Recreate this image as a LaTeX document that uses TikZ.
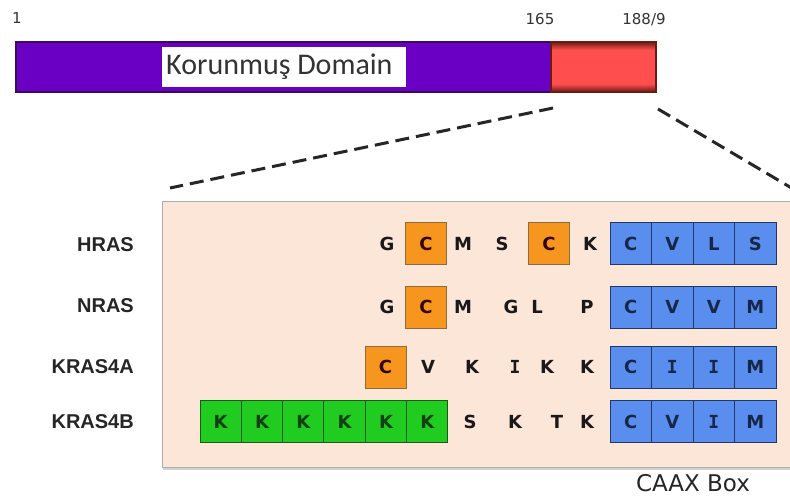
\documentclass[tikz,border=0pt]{standalone}
\usepackage{fontspec}
\setmainfont{Liberation Sans}
\newfontfamily\calib{Carlito}
\newfontfamily\dvs{DejaVu Sans}
\newfontfamily\dvsmono{DejaVu Sans Mono}
\usetikzlibrary{shadows,calc}

\definecolor{dompurple}{HTML}{6A00C4}
\definecolor{domedge}{HTML}{3A0A5E}
\definecolor{tailred}{HTML}{FF4E4E}
\definecolor{tailedge}{HTML}{6B1A14}
\definecolor{peach}{HTML}{FCE6D8}
\definecolor{boxorange}{HTML}{F7961E}
\definecolor{orangeedge}{HTML}{8E6A3E}
\definecolor{boxblue}{HTML}{5A8EEE}
\definecolor{blueedge}{HTML}{1F3868}
\definecolor{boxgreen}{HTML}{1FCC1F}
\definecolor{greenedge}{HTML}{185A18}

% red C-terminal segment: dark rim at top and bottom
\pgfdeclareverticalshading{tailshade}{100bp}{color(0bp)=(tailedge); color(25bp)=(tailedge); color(33bp)=(tailred); color(67bp)=(tailred); color(75bp)=(tailedge); color(100bp)=(tailedge)}

% isoleucine drawn with a serifed capital I
\newcommand{\Ile}{{\dvsmono\bfseries I}}

\begin{document}
\begin{tikzpicture}[x=1pt,y=-1pt,
  num/.style={font=\dvs\fontsize{15}{15}\selectfont, text=black!80, inner sep=0},
  zoomline/.style={line width=3pt, dash pattern=on 14pt off 7pt, black!85},
  rowlab/.style={font=\bfseries\fontsize{20}{20}\selectfont, text=black!85, anchor=east, inner sep=0},
  aa/.style={font=\dvs\bfseries\fontsize{18}{18}\selectfont, text=black!90, inner sep=0},
  cellbase/.style={aa, minimum width=41.5pt, minimum height=42pt, draw, line width=1pt},
  orangecell/.style={cellbase, fill=boxorange, draw=orangeedge, text=black!60!red!50!black, minimum width=41pt},
  bluecell/.style={cellbase, fill=boxblue, draw=blueedge, text=blueedge!70!black},
  greencell/.style={cellbase, fill=boxgreen, draw=greenedge, text=greenedge!70!black, minimum width=41.33pt},
]
\clip (0,0) rectangle (790,497);
\fill[white] (0,0) rectangle (790,497);

% ---- full-length protein bar ----
\node[draw=domedge, line width=1.6pt, fill=dompurple, minimum width=535pt, minimum height=50pt,
      inner sep=0, anchor=north west] (dom) at (15,41) {};
\node[draw=tailedge, line width=1.6pt, shading=tailshade, minimum width=105pt, minimum height=50pt,
      inner sep=0, anchor=north west] (tail) at (550,41) {};
\node[fill=white, minimum width=244pt, minimum height=40pt, inner sep=0, anchor=north west] (lblbox) at (162,47) {};
\node[font=\calib\fontsize{30}{30}\selectfont, text=black!80, inner sep=0, anchor=base west] (lbl) at (166,75) {Korunmuş Domain};

% residue numbers
\node[num, anchor=base] (n1) at (17,24) {1};
\node[num, anchor=base] (n165) at (540,25) {165};
\node[num, anchor=base] (n188) at (644,25) {188/9};

% ---- zoom onto the hypervariable region ----
\coordinate (zl1) at (553,108);
\coordinate (zl2) at (170,188);
\coordinate (zr1) at (658,109);
\coordinate (zr2) at (800,193);
\draw[zoomline] (zl1) -- (zl2);
\draw[zoomline] (zr1) -- (zr2);

\node[draw=gray!65, line width=1.3pt, fill=peach, inner sep=0,
      drop shadow={shadow xshift=0pt, shadow yshift=-2.5pt, opacity=0.35, fill=gray},
      minimum width=660pt, minimum height=266pt, anchor=north west] (seq) at (162,201) {};

% isoform names
\node[rowlab] (hras) at (134,245) {HRAS};
\node[rowlab] (nras) at (134,306) {NRAS};
\node[rowlab] (k4a) at (134,367) {KRAS4A};
\node[rowlab] (k4b) at (134,421.5) {KRAS4B};

% HRAS
\node[aa] (h1) at (387,244) {G};
\node[orangecell] (h2) at (426,244) {C};
\node[aa] (h3) at (463,244) {M};
\node[aa] (h4) at (502,244) {S};
\node[orangecell] (h5) at (549,244) {C};
\node[aa] (h6) at (590,244) {K};
\foreach \ch [count=\i] in {C,V,L,S}
  \node[bluecell] (hb\i) at ({610+41.5*(\i-0.5)},244) {\ch};

% NRAS
\node[aa] (r1) at (387,307) {G};
\node[orangecell] (r2) at (426,307) {C};
\node[aa] (r3) at (463,307) {M};
\node[aa] (r4) at (511,307) {G};
\node[aa] (r5) at (537,307) {L};
\node[aa] (r6) at (587,307) {P};
\foreach \ch [count=\i] in {C,V,V,M}
  \node[bluecell] (rb\i) at ({610+41.5*(\i-0.5)},307) {\ch};

% KRAS4A
\node[orangecell] (a1) at (385.5,367) {C};
\node[aa] (a2) at (428,367) {V};
\node[aa] (a3) at (472,367) {K};
\node[aa] (a4) at (515,367) {\Ile};
\node[aa] (a5) at (547,367) {K};
\node[aa] (a6) at (587,367) {K};
\foreach \ch [count=\i] in {C,\Ile,\Ile,M}
  \node[bluecell] (ab\i) at ({610+41.5*(\i-0.5)},367) {\ch};

% KRAS4B: polybasic lysine stretch
\foreach \i in {1,...,6}
  \node[greencell] (bg\i) at ({200+41.33*(\i-0.5)},421.5) {K};
\node[aa] (b1) at (470,421.5) {S};
\node[aa] (b2) at (515,421.5) {K};
\node[aa] (b3) at (557,421.5) {T};
\node[aa] (b4) at (587,421.5) {K};
\foreach \ch [count=\i] in {C,V,\Ile,M}
  \node[bluecell] (bb\i) at ({610+41.5*(\i-0.5)},421.5) {\ch};

\node[font=\dvs\fontsize{23}{23}\selectfont, text=black!85, inner sep=0, anchor=base] (caax) at (693,491) {CAAX Box};
\end{tikzpicture}
\end{document}
